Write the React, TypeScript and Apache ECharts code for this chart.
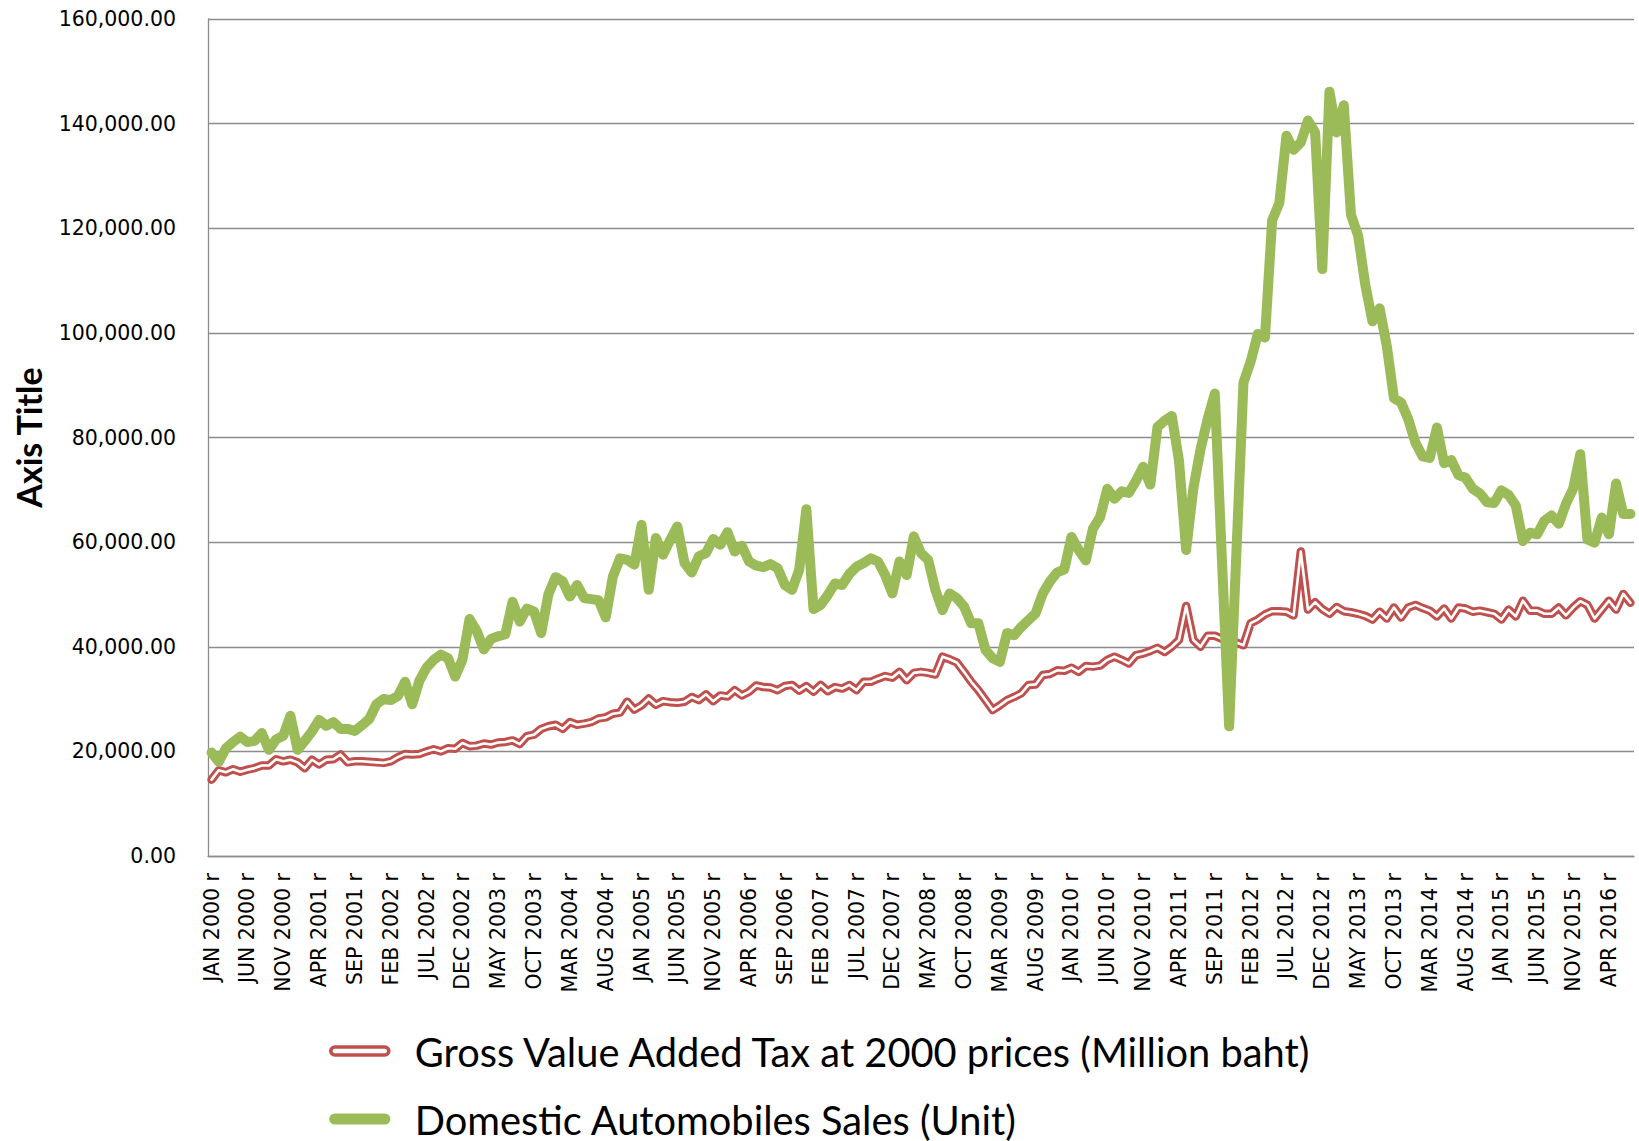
import React, { useEffect, useRef } from 'react';
import * as echarts from 'echarts';

// Category labels: monthly, JAN 2000 r ... JUL 2016 r
const MONTHS = ['JAN', 'FEB', 'MAR', 'APR', 'MAY', 'JUN', 'JUL', 'AUG', 'SEP', 'OCT', 'NOV', 'DEC'];
const START_YEAR = 2000;
const MONTH_COUNT = 199;
const categories: string[] = [];
for (let i = 0; i < MONTH_COUNT; i++) {
  categories.push(`${MONTHS[i % 12]} ${START_YEAR + Math.floor(i / 12)} r`);
}

const VAT_NAME = 'Gross Value Added Tax at 2000 prices (Million baht)';
const CAR_NAME = 'Domestic Automobiles Sales (Unit)';

// Gross Value Added Tax at 2000 prices (Million baht)
const vatGross = [
  14600, 16400, 16000, 16600, 16100, 16500, 16800, 17300, 17300, 18500,
  18100, 18400, 17900, 16800, 18400, 17500, 18400, 18500, 19400, 17900,
  18100, 18100, 18000, 17900, 17800, 18100, 18900, 19500, 19400, 19500,
  20000, 20400, 20000, 20600, 20500, 21600, 21000, 21100, 21500, 21300,
  21700, 21800, 22100, 21400, 22900, 23200, 24300, 24800, 25100, 24300,
  25600, 25100, 25300, 25600, 26300, 26500, 27200, 27400, 29500, 28000,
  28800, 30100, 28900, 29600, 29400, 29300, 29500, 30400, 29800, 30900,
  29600, 30700, 30500, 31700, 30700, 31400, 32600, 32300, 32200, 31700,
  32500, 32700, 31600, 32500, 31400, 32700, 31500, 32300, 32000, 32700,
  31700, 33300, 33300, 33900, 34400, 34100, 35200, 33600, 35000, 35200,
  35000, 34700, 38100, 37600, 37000, 35200, 33300, 31700, 29800, 27900,
  28800, 29800, 30400, 31100, 32700, 32800, 34600, 34800, 35500, 35400,
  36000, 35200, 36300, 36200, 36400, 37500, 38100, 37500, 36800, 38400,
  38700, 39200, 39800, 39000, 40000, 41300, 47800, 41300, 40000, 42100,
  42100, 41500, 41000, 40800, 40300, 44500, 45200, 46200, 46800, 46800,
  46700, 46000, 58200, 47100, 48500, 47200, 46300, 47600, 46800, 46600,
  46300, 45900, 45200, 46700, 45400, 47500, 45600, 47500, 48000, 47400,
  46900, 45800, 47300, 45400, 47500, 47300, 46700, 46900, 46600, 46300,
  45200, 47100, 45800, 48800, 46900, 46900, 46300, 46300, 47500, 46000,
  47500, 48700, 48000, 45400, 47100, 48800, 47100, 50100, 48400,
];

// Domestic Automobiles Sales (Unit)
const autoSales = [
  19800, 18000, 20600, 21800, 22800, 21800, 22000, 23500, 20300, 22300,
  23000, 26800, 20300, 22000, 23800, 26000, 24900, 25600, 24300, 24300,
  23900, 25000, 26200, 29000, 30000, 29800, 30600, 33300, 29000, 33500,
  36000, 37500, 38500, 37800, 34300, 37500, 45300, 43000, 39500, 41500,
  42000, 42400, 48600, 44800, 47300, 46700, 42600, 50000, 53300, 52500,
  49600, 51800, 49300, 49100, 48900, 45600, 53400, 56900, 56600, 55700,
  63300, 50900, 60800, 57600, 60400, 63000, 56000, 54200, 57300, 57900,
  60600, 59500, 61900, 58200, 59300, 56300, 55500, 55200, 55800, 55000,
  51800, 50900, 54700, 66300, 47200, 48000, 49900, 52100, 51800, 53900,
  55300, 56000, 56900, 56300, 53700, 50200, 56300, 53700, 61100, 57900,
  56600, 50900, 47000, 50200, 49300, 47700, 44500, 44500, 39400, 37800,
  37100, 42600, 42200, 43800, 45100, 46400, 50200, 52500, 54200, 54800,
  61000, 58500, 56500, 62600, 64800, 70200, 68300, 69700, 69400, 71700,
  74400, 71000, 82000, 83200, 84100, 75600, 58500, 70200, 77700, 83500,
  88400, 56500, 24800, 57500, 90500, 94500, 99800, 99100, 121500, 124800,
  137700, 135000, 136400, 140600, 138300, 112200, 146100, 138300, 143500, 122600,
  118600, 109200, 102200, 104700, 97500, 87500, 86700, 83500, 79000, 76400,
  76100, 81900, 75100, 75700, 72800, 72300, 70200, 69300, 67600, 67500,
  69900, 69000, 67000, 60200, 61800, 61500, 64100, 65100, 63500, 67300,
  70200, 76800, 60500, 59900, 64700, 61500, 71200, 65400, 65400,
];

const Y_MIN = 0;
const Y_MAX = 160000;
const Y_INTERVAL = 20000;

const RED = '#C0504D';
const GREEN = '#9BBB59';
const GRID_GRAY = '#8C8C8C';
const CAPSULE = 'path://M4,0H54A4,4,0,0,1,54,8H4A4,4,0,0,1,4,0Z';

function formatTick(v: number): string {
  const fixed = v.toFixed(2);
  const [intPart, dec] = fixed.split('.');
  return intPart.replace(/\B(?=(\d{3})+(?!\d))/g, ',') + '.' + dec;
}

export default function App() {
  const ref = useRef<HTMLDivElement>(null);

  useEffect(() => {
    if (!ref.current) return;
    const chart = echarts.init(ref.current, undefined, { renderer: 'svg' });
    const lineBase = {
      type: 'line' as const,
      showSymbol: false,
      symbol: 'none',
      silent: true,
      emphasis: { disabled: true },
    };
    chart.setOption({
      animation: false,
      backgroundColor: '#ffffff',
      grid: {
        left: 208,
        right: 5,
        top: 19,
        bottom: 285,
        containLabel: false,
        outerBoundsMode: 'none',
      },
      legend: {
        orient: 'vertical',
        left: 324,
        top: 1026,
        height: 112,
        itemWidth: 58,
        itemHeight: 8.5,
        itemGap: 28,
        selectedMode: false,
        data: [
          { name: VAT_NAME, icon: CAPSULE, itemStyle: { color: '#ffffff', borderColor: RED, borderWidth: 3.6 } },
          { name: CAR_NAME, icon: CAPSULE, itemStyle: { color: GREEN, borderColor: GREEN, borderWidth: 3.2 } },
        ],
        textStyle: {
          fontFamily: 'Lato',
          fontSize: 39.8,
          color: '#000000',
          lineHeight: 40,
          padding: [0, 0, 0, 21],
        },
      },
      xAxis: {
        type: 'category',
        data: categories,
        boundaryGap: true,
        axisLine: { show: true, lineStyle: { color: GRID_GRAY, width: 1.3 } },
        axisTick: { show: false },
        axisLabel: {
          interval: 4,
          rotate: 90,
          margin: 17,
          fontFamily: 'DejaVu Sans',
          fontSize: 20.5,
          color: '#000000',
        },
        splitLine: { show: false },
      },
      yAxis: {
        type: 'value',
        min: Y_MIN,
        max: Y_MAX,
        interval: Y_INTERVAL,
        axisLine: { show: true, lineStyle: { color: GRID_GRAY, width: 1.3 } },
        axisTick: { show: false },
        splitLine: { show: true, lineStyle: { color: GRID_GRAY, width: 1.3 } },
        axisLabel: {
          formatter: (v: number) => formatTick(v),
          margin: 32,
          fontFamily: 'DejaVu Sans',
          fontSize: 20.5,
          color: '#000000',
        },
        name: 'Axis Title',
        nameLocation: 'middle',
        nameRotate: 90,
        nameGap: 163,
        nameTextStyle: {
          fontFamily: 'Lato',
          fontWeight: 'bold',
          fontSize: 34,
          color: '#000000',
        },
      },
      series: [
        {
          ...lineBase,
          name: VAT_NAME,
          data: vatGross,
          z: 2,
          itemStyle: { color: RED },
          lineStyle: { color: RED, width: 8.5, cap: 'round', join: 'round' },
        },
        {
          ...lineBase,
          name: 'vat-core',
          data: vatGross,
          z: 3,
          itemStyle: { color: '#ffffff' },
          lineStyle: { color: '#ffffff', width: 2.6, cap: 'round', join: 'round' },
        },
        {
          ...lineBase,
          name: CAR_NAME,
          data: autoSales,
          z: 4,
          itemStyle: { color: GREEN },
          lineStyle: { color: GREEN, width: 10, cap: 'round', join: 'round' },
        },
      ],
    });
    return () => chart.dispose();
  }, []);

  return (
    <div
      ref={ref}
      style={{ position: 'absolute', left: 0, top: 0, width: 1639, height: 1141, background: '#fff' }}
    />
  );
}
